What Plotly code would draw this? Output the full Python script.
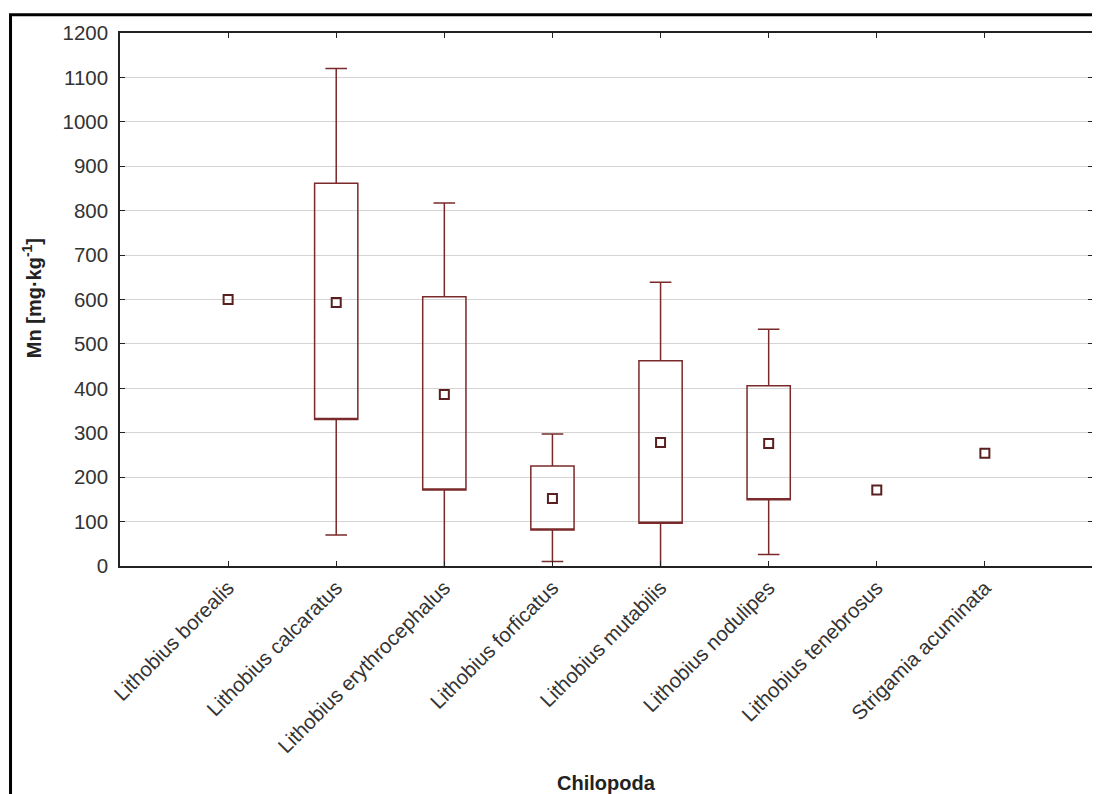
import plotly.graph_objects as go

categories = ["Lithobius borealis", "Lithobius calcaratus", "Lithobius erythrocephalus",
              "Lithobius forficatus", "Lithobius mutabilis", "Lithobius nodulipes",
              "Lithobius tenebrosus", "Strigamia acuminata"]
means = [600, 593, 386, 152, 278, 276, 171, 254]
box_low = [None, 330, 171, 81, 96, 149, None, None]
box_high = [None, 862, 606, 225, 462, 406, None, None]
whisker_low = [None, 70, -44, 10, -82, 26, None, None]
whisker_high = [None, 1120, 817, 297, 639, 533, None, None]
y_ticks = list(range(0, 1201, 100))

COLOR = "#7a2a2a"
FONT = "Liberation Sans, Arial, sans-serif"

idx = [i for i, v in enumerate(box_low) if v is not None]

fig = go.Figure()
fig.add_trace(go.Box(
    x=[categories[i] for i in idx],
    q1=[box_low[i] for i in idx],
    median=[box_low[i] for i in idx],
    q3=[box_high[i] for i in idx],
    lowerfence=[whisker_low[i] for i in idx],
    upperfence=[whisker_high[i] for i in idx],
    width=0.4, whiskerwidth=0.5,
    line=dict(color=COLOR, width=1.5),
    fillcolor="rgba(255,255,255,0)",
    boxpoints=False, showlegend=False,
))
fig.add_trace(go.Scatter(
    x=categories, y=means, mode="markers",
    marker=dict(symbol="square-open", size=9, color="#5a2020", line=dict(width=2, color="#5a2020")),
    showlegend=False,
))

axis_common = dict(showline=True, linecolor="#222", linewidth=1.5, mirror="ticks",
                   ticks="inside", tickcolor="#222", ticklen=5,
                   tickfont=dict(family=FONT, size=20.5, color="#333"))

fig.update_xaxes(type="category", categoryarray=categories, range=[-1, 8],
                 tickangle=-45, showgrid=False, **axis_common)
fig.update_yaxes(range=[0, 1200], tickvals=y_ticks, showgrid=True, gridcolor="#d4d4d4",
                 gridwidth=1.2, zeroline=False, ticklabelstandoff=6, **axis_common)

fig.update_layout(
    width=1092, height=786,
    margin=dict(l=112, r=5, t=25, b=228),
    paper_bgcolor="white", plot_bgcolor="white",
    font=dict(family=FONT, color="#222"),
    annotations=[
        dict(text="<b>Chilopoda</b>", xref="paper", yref="paper", x=0.5, y=(566 - 783) / 533,
             xanchor="center", yanchor="middle", showarrow=False,
             font=dict(family=FONT, size=20, color="#222")),
        dict(text="<b>Mn [mg·kg<sup>-1</sup>]</b>", xref="paper", yref="paper",
             x=(31 - 120) / 975, y=(566 - 298) / 533, textangle=-90,
             xanchor="center", yanchor="middle", showarrow=False,
             font=dict(family=FONT, size=20, color="#222")),
    ],
    shapes=[
        dict(type="rect", xref="paper", yref="paper",
             x0=(10.3 - 120) / 975, x1=(1130 - 120) / 975,
             y0=(566 - 830) / 533, y1=(566 - 14.7) / 533,
             line=dict(color="black", width=3), fillcolor="rgba(0,0,0,0)", layer="above"),
    ],
)

fig.write_html("out.html")
